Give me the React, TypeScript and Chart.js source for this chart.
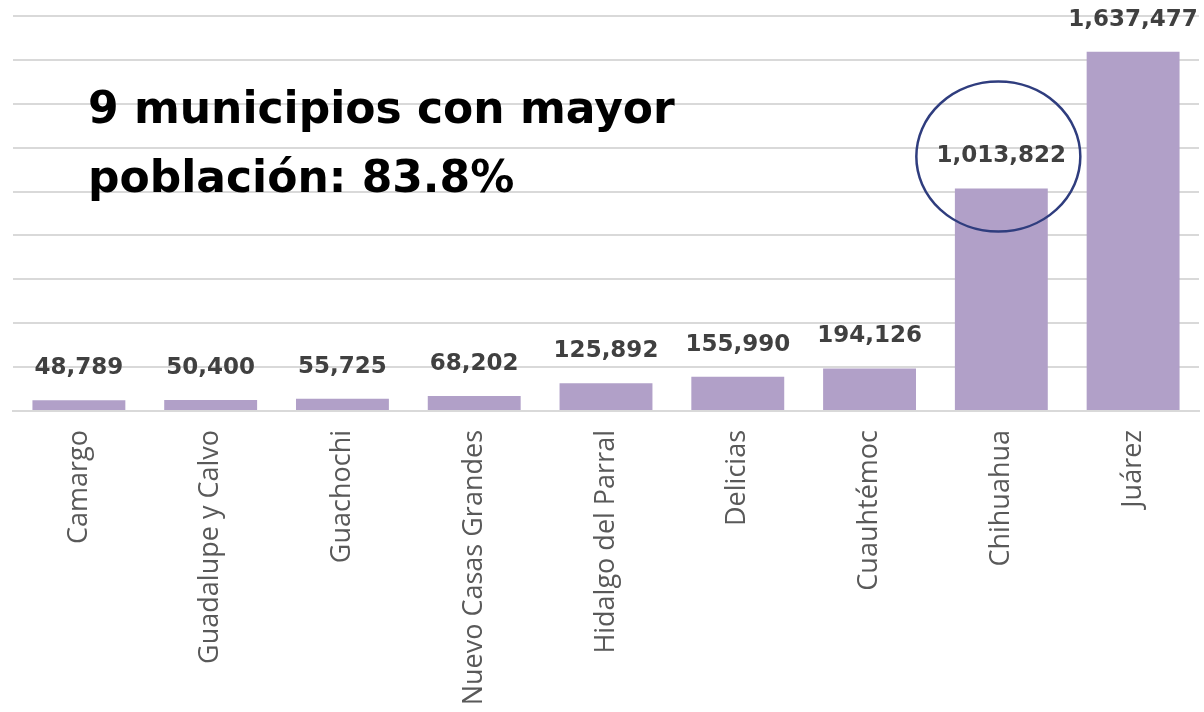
import React, { useEffect, useRef } from "react";
import { Chart, registerables } from "chart.js";

Chart.register(...registerables);

const categories = [
  "Camargo",
  "Guadalupe y Calvo",
  "Guachochi",
  "Nuevo Casas Grandes",
  "Hidalgo del Parral",
  "Delicias",
  "Cuauhtémoc",
  "Chihuahua",
  "Juárez",
];
const population = [48789, 50400, 55725, 68202, 125892, 155990, 194126, 1013822, 1637477];
const titleLines = ["9 municipios con mayor", "población: 83.8%"];
const highlightedCategory = "Chihuahua";
const yMax = 1800000;
const yStep = 200000;

const overlayPlugin = {
  id: "overlay",
  afterDatasetsDraw(chart: any) {
    const ctx = chart.ctx;
    const meta = chart.getDatasetMeta(0);
    ctx.save();
    ctx.font = "bold 23px 'DejaVu Sans'";
    ctx.fillStyle = "#404040";
    ctx.textAlign = "center";
    ctx.textBaseline = "middle";
    meta.data.forEach((bar: any, i: number) => {
      const v = population[i];
      ctx.fillText(v.toLocaleString("en-US"), bar.x, bar.y - 32);
    });
    const hi = categories.indexOf(highlightedCategory);
    if (hi >= 0) {
      const bar: any = meta.data[hi];
      ctx.beginPath();
      ctx.ellipse(bar.x - 3, bar.y - 32, 82, 75, 0, 0, Math.PI * 2);
      ctx.strokeStyle = "#2f3d7e";
      ctx.lineWidth = 2.5;
      ctx.stroke();
    }
    ctx.font = "bold 44px 'DejaVu Sans'";
    ctx.fillStyle = "#000000";
    ctx.textAlign = "left";
    ctx.textBaseline = "alphabetic";
    ctx.fillText(titleLines[0], 88, 123);
    ctx.fillText(titleLines[1], 88, 192);
    ctx.restore();
  },
};

export default function App() {
  const canvasRef = useRef<HTMLCanvasElement | null>(null);

  useEffect(() => {
    document.body.style.margin = "0";
    const canvas = canvasRef.current;
    if (!canvas) return;
    const chart = new Chart(canvas, {
      type: "bar",
      data: {
        labels: categories,
        datasets: [
          {
            data: population,
            backgroundColor: "#b1a0c8",
            barPercentage: 0.705,
            categoryPercentage: 1,
          },
        ],
      },
      options: {
        animation: false,
        responsive: true,
        maintainAspectRatio: false,
        layout: { padding: { left: 13, right: 5, top: 16, bottom: 0 } },
        plugins: {
          legend: { display: false },
          tooltip: { enabled: false },
          title: { display: false },
        },
        scales: {
          x: {
            grid: { display: false, drawTicks: false },
            border: { display: true, color: "#d9d9d9", width: 2 },
            ticks: {
              autoSkip: false,
              minRotation: 90,
              maxRotation: 90,
              padding: 19,
              color: "#595959",
              font: { family: "'Open Sans'", size: 27 },
            },
            afterFit(scale: any) {
              scale.height = 301;
            },
          },
          y: {
            min: 0,
            max: yMax,
            ticks: { display: false, stepSize: yStep },
            grid: { color: "#d9d9d9", lineWidth: 2, drawTicks: false },
            border: { display: false },
            afterFit(scale: any) {
              scale.width = 0;
            },
          },
        },
      },
      plugins: [overlayPlugin],
    });
    return () => chart.destroy();
  }, []);

  return (
    <div style={{ position: "fixed", left: 0, top: 0, width: 1204, height: 712, background: "#ffffff" }}>
      <canvas ref={canvasRef} />
    </div>
  );
}
